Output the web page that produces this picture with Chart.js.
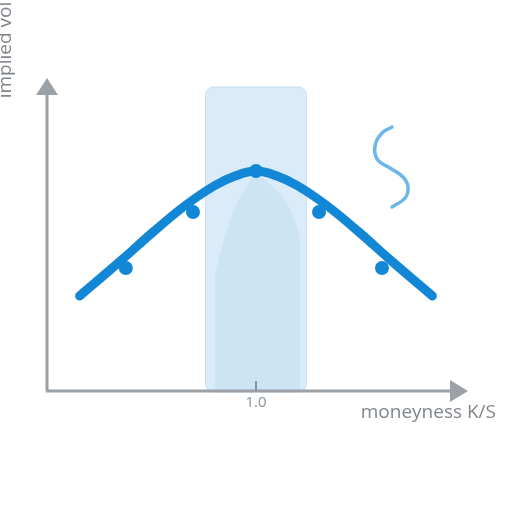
<!DOCTYPE html>
<html>
<head>
<meta charset="utf-8">
<script src="https://cdn.jsdelivr.net/npm/chart.js@4/dist/chart.umd.min.js"></script>
<style>
  body { margin: 0; background: #fff; }
  #wrap { width: 512px; height: 512px; }
</style>
</head>
<body>
<div id="wrap"><canvas id="grafica"></canvas></div>
<script>
// Datos

const curveX = [0.58, 0.68, 0.755, 0.83, 0.90, 0.95, 1.00, 1.05, 1.10, 1.17, 1.245, 1.32, 1.42];
const curveVol = [9.5, 13.1, 15.9, 18.5, 20.5, 21.5, 22.0, 21.5, 20.5, 18.5, 15.9, 13.1, 9.5];

const quoteX = [0.69, 0.85, 1.00, 1.15, 1.30];
const quoteVol = [12.3, 17.9, 22.0, 17.9, 12.3];

const shadeX = [0.902, 0.902, 0.945, 1.0, 1.069, 1.105, 1.105];
const shadeVol = [0, 11.1, 17.8, 21.5, 19.1, 15.1, 0];

const squigX = [1.324, 1.300, 1.283, 1.290, 1.319, 1.350, 1.362, 1.355, 1.324];
const squigVol = [26.4, 25.8, 24.4, 23.1, 22.3, 21.4, 20.4, 19.3, 18.4];

const band = [0.88, 1.12];
const bandTop = 30.4;

const xTicks = [1.0];
const xTickLabels = ['1.0'];
const xTitle = 'moneyness K/S';
const yTitle = 'implied vol';

const toPts = (xs, ys) => xs.map((x, i) => ({ x: x, y: ys[i] }));

// Ejes, banda y textos

const decoraciones = {
  id: 'decoraciones',
  beforeDatasetsDraw(chart) {
    const ctx = chart.ctx;
    const x = chart.scales.x;
    const y = chart.scales.y;
    const l = x.getPixelForValue(band[0]);
    const r = x.getPixelForValue(band[1]);
    const t = y.getPixelForValue(bandTop);
    const b = y.getPixelForValue(-0.1);
    ctx.save();
    ctx.beginPath();
    ctx.roundRect(l, t, r - l, b - t, 8);
    ctx.fillStyle = '#daecf9';
    ctx.fill();
    ctx.strokeStyle = '#c6e0f3';
    ctx.lineWidth = 1;
    ctx.stroke();
    ctx.restore();
  },
  afterDatasetsDraw(chart) {
    const ctx = chart.ctx;
    const x = chart.scales.x;
    const y = chart.scales.y;
    const x0 = x.getPixelForValue(0.5);
    const y0 = y.getPixelForValue(0);
    const xEnd = x.getPixelForValue(1.5);
    const yEnd = y.getPixelForValue(31);
    const gris = '#9ba1a7';

    ctx.save();
    ctx.strokeStyle = gris;
    ctx.fillStyle = gris;
    ctx.lineWidth = 3;

    // eje y
    ctx.beginPath();
    ctx.moveTo(x0 + 1, y0);
    ctx.lineTo(x0 + 1, yEnd + 12);
    ctx.stroke();
    ctx.beginPath();
    ctx.moveTo(x0 + 1, yEnd - 3);
    ctx.lineTo(x0 - 10, yEnd + 14);
    ctx.lineTo(x0 + 12, yEnd + 14);
    ctx.closePath();
    ctx.fill();

    // eje x
    ctx.beginPath();
    ctx.moveTo(x0, y0);
    ctx.lineTo(xEnd - 14, y0);
    ctx.stroke();
    ctx.beginPath();
    ctx.moveTo(xEnd + 2, y0);
    ctx.lineTo(xEnd - 16, y0 - 11);
    ctx.lineTo(xEnd - 16, y0 + 11);
    ctx.closePath();
    ctx.fill();

    // marca 1.0
    ctx.lineWidth = 2;
    ctx.strokeStyle = '#8a9096';
    xTicks.forEach((v, i) => {
      const px = x.getPixelForValue(v);
      ctx.beginPath();
      ctx.moveTo(px, y0 - 10);
      ctx.lineTo(px, y0);
      ctx.stroke();
      ctx.fillStyle = '#8a9096';
      ctx.font = '15px "Open Sans"';
      ctx.textAlign = 'center';
      ctx.textBaseline = 'middle';
      ctx.fillText(xTickLabels[i], px, y0 + 12);
    });

    // titulos
    ctx.fillStyle = '#80868c';
    ctx.font = '19px "Open Sans"';
    ctx.textAlign = 'right';
    ctx.textBaseline = 'middle';
    ctx.fillText(xTitle, xEnd + 30, y0 + 22);

    ctx.translate(11, 50);
    ctx.rotate(-Math.PI / 2);
    ctx.textAlign = 'center';
    ctx.textBaseline = 'alphabetic';
    ctx.fillText(yTitle, 0, 0);
    ctx.restore();
  }
};

const config = {
  type: 'line',
  data: {
    datasets: [{
      label: 'sombra',
      data: toPts(shadeX, shadeVol),
      fill: 'origin',
      backgroundColor: '#cde4f5',
      borderWidth: 0,
      pointRadius: 0,
      tension: 0.25,
      order: 4
    }, {
      label: 'smile',
      data: toPts(curveX, curveVol),
      borderColor: '#1287d6',
      borderWidth: 9,
      borderCapStyle: 'round',
      pointRadius: 0,
      tension: 0.4,
      order: 1
    }, {
      label: 'quotes',
      data: toPts(quoteX, quoteVol),
      showLine: false,
      pointRadius: 7,
      pointBackgroundColor: '#1287d6',
      pointBorderWidth: 0,
      order: 2
    }, {
      label: 'skew',
      data: toPts(squigX, squigVol),
      borderColor: '#6cb6ea',
      borderWidth: 3.5,
      borderCapStyle: 'round',
      pointRadius: 0,
      tension: 0.45,
      order: 3
    }]
  },
  options: {
    responsive: true,
    maintainAspectRatio: false,
    animation: false,
    events: [],
    layout: { padding: { left: 46, right: 46, top: 81, bottom: 121 } },
    plugins: { legend: { display: false }, tooltip: { enabled: false } },
    scales: {
      x: { type: 'linear', min: 0.5, max: 1.5, display: false },
      y: { type: 'linear', min: 0, max: 31, display: false }
    },
    elements: { line: { clip: false } }
  },
  plugins: [decoraciones]
};

new Chart(document.getElementById('grafica'), config);
</script>
</body>
</html>
